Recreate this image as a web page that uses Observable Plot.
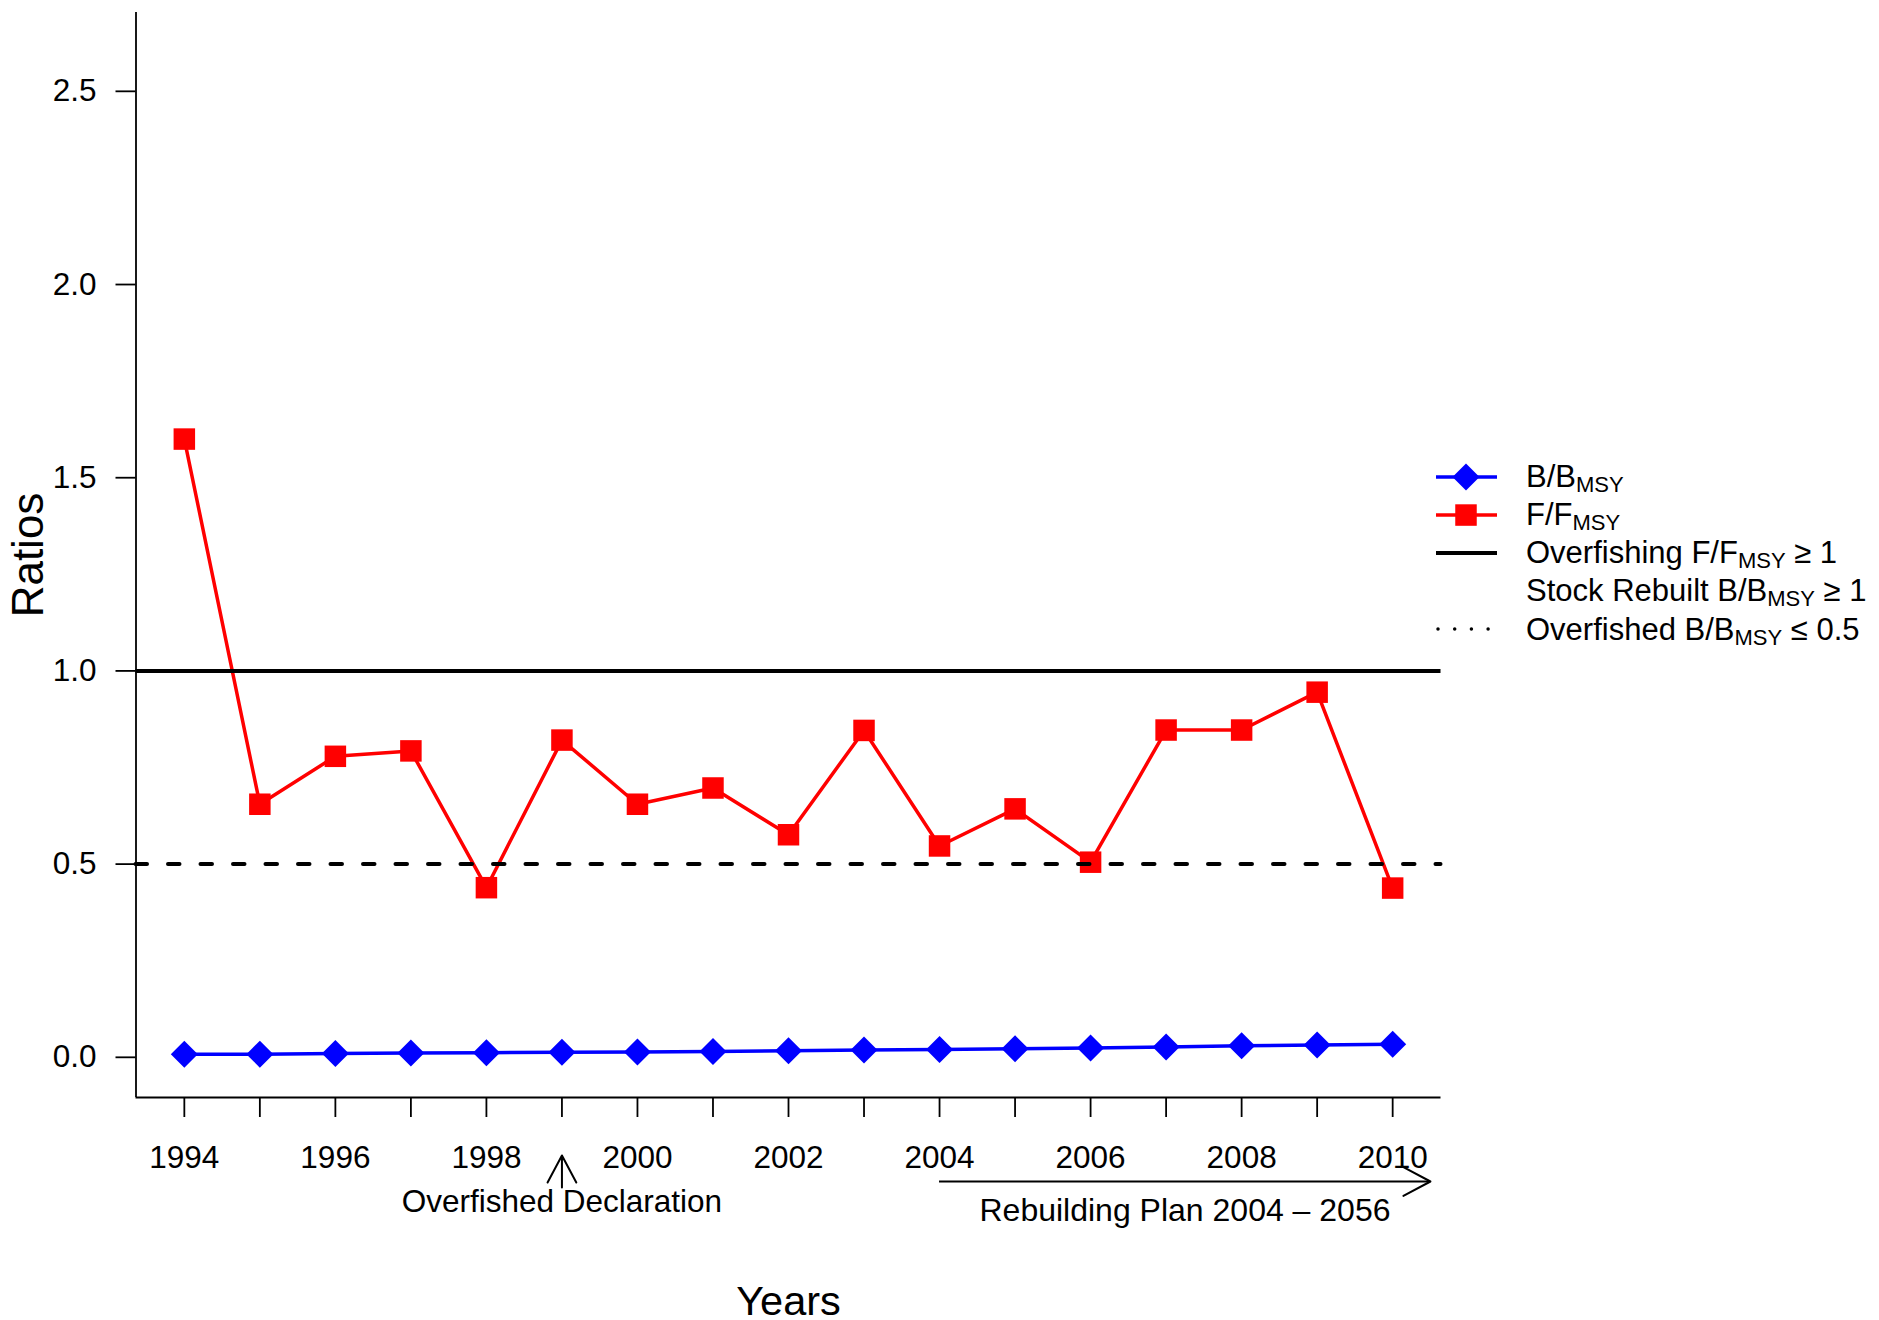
<!DOCTYPE html>
<html>
<head>
<meta charset="utf-8">
<script src="https://cdn.jsdelivr.net/npm/d3@7"></script>
<script src="https://cdn.jsdelivr.net/npm/@observablehq/plot@0.6"></script>
<style>
  html, body { margin: 0; padding: 0; background: #fff; }
  #figure { position: relative; width: 1879px; height: 1320px; font-family: "Liberation Sans", Arial, sans-serif; }
  #legend { position: absolute; left: 1436px; top: 457.6px; font-size: 31px; line-height: 1; color: #000; }
  #legend .row { display: flex; align-items: center; height: 38.1px; white-space: nowrap; }
  #legend svg { flex: none; margin-right: 28px; }
  #legend .sub { font-size: 22px; position: relative; top: 5px; }
</style>
</head>
<body>
<div id="figure"></div>
<script>
// Stock status ratios, 1994–2010
const years = [1994, 1995, 1996, 1997, 1998, 1999, 2000, 2001, 2002, 2003, 2004, 2005, 2006, 2007, 2008, 2009, 2010];
const fRatio = [1.600, 0.655, 0.779, 0.793, 0.439, 0.821, 0.655, 0.697, 0.576, 0.846, 0.547, 0.643, 0.505, 0.847, 0.847, 0.945, 0.438];
const bRatio = [0.008, 0.008, 0.010, 0.011, 0.012, 0.013, 0.014, 0.015, 0.017, 0.019, 0.020, 0.022, 0.024, 0.027, 0.030, 0.032, 0.034];
const yTicks = [0, 0.5, 1, 1.5, 2, 2.5];
const xTicks = years;

// Reference levels
const overfishingLevel = 1;
const overfishedLevel = 0.5;

// Management milestones
const declarationYear = 1999;
const planStart = 2004;
const planEnd = 2010.5;
const declarationLabel = "Overfished Declaration";
const planLabel = "Rebuilding Plan 2004 \u2013 2056";

const table = years.map((year, i) => ({year, f: fRatio[i], b: bRatio[i]}));

// Axis limits padded by 4% of the range on each side
const xDomain = [1994 - 0.04 * 16, 2010 + 0.04 * 16];
const yDomain = [0 - 0.04 * 2.6, 2.6 + 0.04 * 2.6];

// Open V arrowhead (side r, half-angle 28°) with an optional shaft of length l
const openArrow = {
  draw(context, l, r) {
    const a = 28 * Math.PI / 180;
    if (l > 0) { context.moveTo(0, 0); context.lineTo(0, -l); }
    context.moveTo(-r * Math.sin(a), -l + r * Math.cos(a));
    context.lineTo(0, -l);
    context.lineTo(r * Math.sin(a), -l + r * Math.cos(a));
  }
};

const font = "\"Liberation Sans\", Arial, sans-serif";
const tickFont = 31.5;

const chart = Plot.plot({
  width: 1879,
  height: 1320,
  marginLeft: 135.5,
  marginRight: 438.5,
  marginTop: 12,
  marginBottom: 223,
  style: {fontFamily: font, fontSize: "30px", background: "white", color: "black", overflow: "visible"},
  x: {domain: xDomain, label: null},
  y: {domain: yDomain, label: null},
  marks: [
    // L-shaped frame
    Plot.ruleX([xDomain[0]], {stroke: "black", strokeWidth: 1.8}),
    Plot.ruleY([yDomain[0]], {stroke: "black", strokeWidth: 1.8}),
    Plot.axisY({ticks: yTicks, tickFormat: d3.format(".1f"), tickSize: 20, tickPadding: 19.5, fontSize: tickFont, strokeWidth: 1.8, label: null}),
    Plot.axisX({ticks: xTicks, tickFormat: d => d % 2 === 0 ? String(d) : "", tickSize: 20, tickPadding: 28, fontSize: tickFont, strokeWidth: 1.8, label: null}),

    // B/BMSY series
    Plot.line(table, {x: "year", y: "b", stroke: "#0000ff", strokeWidth: 3.5}),
    Plot.dot(table, {x: "year", y: "b", symbol: "diamond2", r: 12.16, fill: "#0000ff", stroke: "none"}),

    // F/FMSY series
    Plot.line(table, {x: "year", y: "f", stroke: "#ff0000", strokeWidth: 3.5}),
    Plot.dot(table, {x: "year", y: "f", symbol: "square", r: 12.13, fill: "#ff0000", stroke: "none"}),

    // Overfishing threshold and overfished threshold
    Plot.ruleY([overfishingLevel], {stroke: "black", strokeWidth: 4}),
    Plot.ruleY([overfishedLevel], {stroke: "black", strokeWidth: 4, strokeDasharray: "11.5,21", strokeLinecap: "round"}),

    // Overfished declaration marker below the axis
    Plot.vector([declarationYear], {x: d => d, y: yDomain[0], dy: 90, length: 32, anchor: "start", rotate: 0, shape: openArrow, r: 30.6, stroke: "black", strokeWidth: 2}),
    Plot.text([declarationLabel], {x: declarationYear, y: yDomain[0], dy: 114, lineAnchor: "bottom", fontSize: tickFont, fill: "black"}),

    // Rebuilding plan period arrow
    Plot.ruleY([yDomain[0]], {x1: planStart, x2: planEnd, dy: 84, stroke: "black", strokeWidth: 2}),
    Plot.vector([planEnd], {x: d => d, y: yDomain[0], dy: 84, length: 0, rotate: 90, shape: openArrow, r: 30.6, stroke: "black", strokeWidth: 2}),
    Plot.text([planLabel], {x: (planStart + planEnd) / 2, y: yDomain[0], dy: 123, lineAnchor: "bottom", fontSize: 32, fill: "black"}),

    // Axis titles
    Plot.text(["Ratios"], {frameAnchor: "left", textAnchor: "middle", dx: -93, rotate: -90, lineAnchor: "bottom", fontSize: 44, fill: "black"}),
    Plot.text(["Years"], {frameAnchor: "bottom", textAnchor: "middle", dy: 217, lineAnchor: "bottom", fontSize: 41.5, fill: "black"})
  ]
});

const figure = document.getElementById("figure");
figure.appendChild(chart);

// Legend
const legendItems = [
  {kind: "diamond", color: "#0000ff", lineWidth: 3.5, html: "B/B<span class=\"sub\">MSY</span>"},
  {kind: "square", color: "#ff0000", lineWidth: 3.5, html: "F/F<span class=\"sub\">MSY</span>"},
  {kind: "solid", color: "#000000", lineWidth: 4, html: "Overfishing F/F<span class=\"sub\">MSY</span> \u2265 1"},
  {kind: "none", color: "#000000", lineWidth: 0, html: "Stock Rebuilt B/B<span class=\"sub\">MSY</span> \u2265 1"},
  {kind: "dotted", color: "#000000", lineWidth: 3.5, html: "Overfished B/B<span class=\"sub\">MSY</span> \u2264 0.5"}
];

const legend = d3.select(figure).append("div").attr("id", "legend");
for (const item of legendItems) {
  const row = legend.append("div").attr("class", "row");
  const sw = row.append("svg").attr("width", 62).attr("height", 38.1);
  const cy = 19.05, cx = 30;
  if (item.kind === "diamond" || item.kind === "square" || item.kind === "solid") {
    sw.append("line").attr("x1", 0).attr("x2", 61).attr("y1", cy).attr("y2", cy)
      .attr("stroke", item.color).attr("stroke-width", item.lineWidth);
  }
  if (item.kind === "diamond") {
    const h = 13.5;
    sw.append("path").attr("d", `M${cx},${cy - h}L${cx + h},${cy}L${cx},${cy + h}L${cx - h},${cy}Z`).attr("fill", item.color);
  }
  if (item.kind === "square") {
    sw.append("rect").attr("x", cx - 10.75).attr("y", cy - 10.75).attr("width", 21.5).attr("height", 21.5).attr("fill", item.color);
  }
  if (item.kind === "dotted") {
    sw.append("line").attr("x1", 2).attr("x2", 53).attr("y1", cy).attr("y2", cy)
      .attr("stroke", item.color).attr("stroke-width", item.lineWidth)
      .attr("stroke-dasharray", "0 16.7").attr("stroke-linecap", "round");
  }
  row.append("span").html(item.html);
}
</script>
</body>
</html>
